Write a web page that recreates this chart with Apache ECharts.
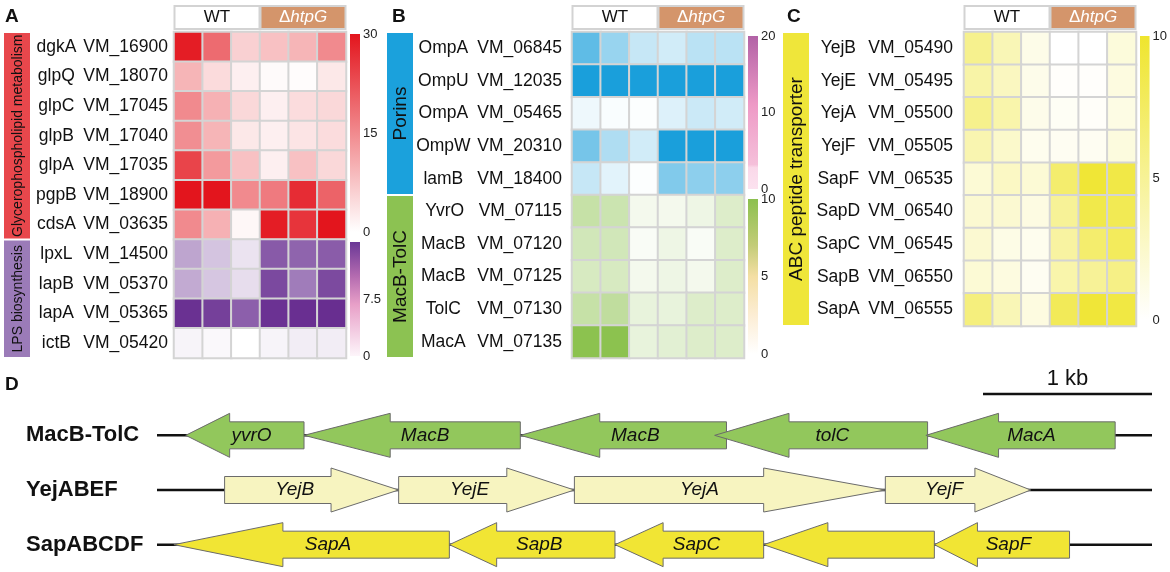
<!DOCTYPE html>
<html><head><meta charset="utf-8">
<script src="https://cdn.jsdelivr.net/npm/echarts@6/dist/echarts.min.js"></script>
<style>html,body{margin:0;padding:0;background:#fff}#c{width:1170px;height:572px}</style>
</head><body><div id="c"></div>
<script>
// ---------------- DATA ----------------
const samples = ['WT-1', 'WT-2', 'WT-3', 'htpG-1', 'htpG-2', 'htpG-3'];
const strains = ['WT', 'ΔhtpG'];

// Panel A
const genesA = ['dgkA', 'glpQ', 'glpC', 'glpB', 'glpA', 'pgpB', 'cdsA', 'lpxL', 'lapB', 'lapA', 'ictB'];
const idsA = ['VM_16900', 'VM_18070', 'VM_17045', 'VM_17040', 'VM_17035', 'VM_18900', 'VM_03635', 'VM_14500', 'VM_05370', 'VM_05365', 'VM_05420'];
const glyceroValues = [
  [29, 19, 6, 8, 9.5, 15],
  [9.5, 4.6, 2, 0.6, 0.4, 3],
  [15, 10, 5, 2, 4.5, 5],
  [14.5, 9.5, 3, 2, 3.5, 4.5],
  [24, 13, 8, 2, 8, 5],
  [30, 30, 15, 17, 27, 20],
  [15, 10, 1, 29, 26, 30]
];
const lpsValues = [
  [6.4, 4.2, 2, 11.7, 11, 11.5],
  [6, 4, 2.4, 12.9, 9.3, 12.8],
  [14.6, 13.5, 11.3, 14.5, 14.7, 14.8],
  [0.8, 0.5, 0, 0.8, 1.3, 1.3]
];
const groupsA = [
  { name: 'Glycerophospholipid metabolism', from: 0, to: 6 },
  { name: 'LPS biosynthesis', from: 7, to: 10 }
];

// Panel B
const genesB = ['OmpA', 'OmpU', 'OmpA', 'OmpW', 'lamB', 'YvrO', 'MacB', 'MacB', 'TolC', 'MacA'];
const idsB = ['VM_06845', 'VM_12035', 'VM_05465', 'VM_20310', 'VM_18400', 'VM_07115', 'VM_07120', 'VM_07125', 'VM_07130', 'VM_07135'];
const porinValues = [
  [14, 9, 5, 4, 6, 6],
  [20, 20, 20, 20, 20, 20],
  [1.5, 0.5, 0.3, 3, 4.5, 4],
  [12, 7, 4, 20, 20, 20],
  [5, 2.5, 0.3, 11, 10, 10]
];
const macValues = [
  [5, 4.5, 1, 1, 1.5, 3],
  [4, 4, 0.5, 1.5, 0.5, 3],
  [3.5, 3.5, 1, 1.5, 1, 3],
  [5, 5.5, 2, 2, 3, 3],
  [10, 10, 2, 2.5, 3, 3]
];
const groupsB = [
  { name: 'Porins', from: 0, to: 4 },
  { name: 'MacB-TolC', from: 5, to: 9 }
];

// Panel C
const genesC = ['YejB', 'YejE', 'YejA', 'YejF', 'SapF', 'SapD', 'SapC', 'SapB', 'SapA'];
const idsC = ['VM_05490', 'VM_05495', 'VM_05500', 'VM_05505', 'VM_06535', 'VM_06540', 'VM_06545', 'VM_06550', 'VM_06555'];
const abcValues = [
  [5.4, 3.5, 1.1, 0, 0, 1.7],
  [4.2, 3, 1, 0.2, 0.2, 1.5],
  [5.5, 4, 1, 0.5, 0.3, 1.3],
  [3.8, 2.5, 0.8, 0.6, 0.6, 1.6],
  [2, 2.8, 2, 7, 9.6, 8.8],
  [2.2, 2.2, 1.4, 5, 8.6, 8.2],
  [2.2, 1.2, 0.8, 4.5, 7, 7.8],
  [2, 1.5, 0.6, 4, 5, 5.8],
  [6.2, 3.5, 1.5, 8, 9.5, 9]
];
const groupsC = [{ name: 'ABC peptide transporter', from: 0, to: 8 }];

// Panel D (gene coordinates in bp; head = arrow-head length in bp)
const trackNames = ['MacB-TolC', 'YejABEF', 'SapABCDF'];
const trackLengthBp = 5888;
const trackStrand = [-1, 1, -1];
const macOperon = [
  { name: 'yvrO', start: 170, end: 870, head: 260 },
  { name: 'MacB', start: 870, end: 2150, head: 510 },
  { name: 'MacB', start: 2150, end: 3370, head: 470 },
  { name: 'tolC', start: 3300, end: 4560, head: 440 },
  { name: 'MacA', start: 4550, end: 5670, head: 430 }
];
const yejOperon = [
  { name: 'YejB', start: 400, end: 1430, head: 400 },
  { name: 'YejE', start: 1430, end: 2470, head: 400 },
  { name: 'YejA', start: 2470, end: 4310, head: 720 },
  { name: 'YejF', start: 4310, end: 5170, head: 330 }
];
const sapOperon = [
  { name: 'SapA', start: 100, end: 1730, head: 645 },
  { name: 'SapB', start: 1730, end: 2710, head: 280 },
  { name: 'SapC', start: 2710, end: 3590, head: 285 },
  { name: '', start: 3590, end: 4600, head: 380 },
  { name: 'SapF', start: 4600, end: 5400, head: 255 }
];
const scaleBarBp = 1000;
const scaleBarLabel = '1 kb';

// ---------------- CHART ----------------
const FONT = 'Liberation Sans, Arial, sans-serif';
const option = {
  animation: false, backgroundColor: '#ffffff',
  title: [], grid: [], xAxis: [], yAxis: [], series: [], visualMap: []
};
['A', 'B', 'C', 'D'].forEach((t, i) => {
  const pos = [[5, 7], [392, 7], [787, 7], [5, 375]][i];
  option.title.push({ text: t, left: pos[0], top: pos[1], padding: 0,
    textStyle: { fontSize: 19, fontWeight: 'bold', color: '#111', fontFamily: FONT } });
});

const strainItems = strains.map((s, i) => ({
  value: s,
  textStyle: { backgroundColor: i ? '#d4956b' : '#ffffff' }
}));

function addHeatPanel(p) {
  const gi = option.grid.length;
  option.grid.push({ left: p.left, top: p.top, width: 172, height: p.height });
  const xi = option.xAxis.length;
  option.xAxis.push({ gridIndex: gi, type: 'category', data: samples, show: false });
  option.xAxis.push({
    gridIndex: gi, type: 'category', position: 'top', data: strainItems,
    axisLine: { show: false }, axisTick: { show: false }, splitLine: { show: false },
    axisLabel: {
      interval: 0, margin: 4, width: 83, height: 21, lineHeight: 21, padding: 0,
      borderColor: '#d3d3d3', borderWidth: 2, align: 'center',
      formatter: v => v.startsWith('Δ') ? '{dn|Δ}{di|' + v.slice(1) + '}' : '{wn|' + v + '}',
      rich: {
        wn: { fontSize: 17, fontFamily: FONT, color: '#111', lineHeight: 21 },
        dn: { fontSize: 17, fontFamily: FONT, color: '#ffffff', lineHeight: 21 },
        di: { fontSize: 17, fontFamily: FONT, color: '#ffffff', fontStyle: 'italic', lineHeight: 21 }
      }
    }
  });
  const yi = option.yAxis.length;
  option.yAxis.push({
    gridIndex: gi, type: 'category', data: p.ids, inverse: true,
    axisLine: { show: false }, axisTick: { show: false }, splitLine: { show: false },
    axisLabel: {
      interval: 0, margin: p.margin,
      formatter: (v, i) => '{g|' + p.genes[i] + '}{v|' + v + '}',
      rich: {
        g: { width: p.geneW, align: 'center', fontSize: 17.5, fontFamily: FONT, color: '#111' },
        v: { fontSize: 17.5, fontFamily: FONT, color: '#111' }
      }
    }
  });
  p.blocks.forEach(b => {
    const si = option.series.length;
    const data = [];
    b.values.forEach((row, r) => row.forEach((val, c) => data.push([c, b.rowStart + r, val])));
    option.series.push({
      type: 'heatmap', xAxisIndex: xi, yAxisIndex: yi, data, silent: true,
      itemStyle: { borderColor: '#d4d4d4', borderWidth: 2 }, emphasis: { disabled: true }
    });
    option.visualMap.push({
      type: 'continuous', show: false, seriesIndex: si, dimension: 2,
      min: 0, max: b.max, inRange: { color: ['#ffffff', b.color] }
    });
  });
}

function addColorbar(c) {
  const gi = option.grid.length;
  option.grid.push({ left: c.left, top: c.top, width: 10, height: c.height });
  const xi = option.xAxis.length;
  option.xAxis.push({ gridIndex: gi, type: 'category', data: ['scale'], show: false });
  const yi = option.yAxis.length;
  option.yAxis.push({
    gridIndex: gi, type: 'value', min: 0, max: c.max, interval: c.interval, position: 'right',
    axisLine: { show: false }, axisTick: { show: false }, splitLine: { show: false },
    axisLabel: { margin: 3, fontSize: 13, color: '#222', fontFamily: FONT, showMaxLabel: c.showMax !== false }
  });
  option.series.push({
    type: 'bar', xAxisIndex: xi, yAxisIndex: yi, data: [c.max], barWidth: '100%', silent: true,
    itemStyle: { color: new echarts.graphic.LinearGradient(0, 0, 0, 1, c.stops) }
  });
}

function addGroupBar(g) {
  const gi = option.grid.length;
  option.grid.push({ left: g.left, top: g.top, width: g.width, height: g.height });
  const xi = option.xAxis.length;
  option.xAxis.push({ gridIndex: gi, type: 'value', min: 0, max: 20, show: false });
  const yi = option.yAxis.length;
  option.yAxis.push({ gridIndex: gi, type: 'category', data: g.ids, inverse: true, show: false });
  option.series.push({
    type: 'custom', xAxisIndex: xi, yAxisIndex: yi, silent: true,
    data: g.groups.map(x => [x.from, x.to]),
    renderItem: (params, api) => {
      const grp = g.groups[params.dataIndex];
      const band = api.size([0, 1])[1];
      const yA = api.coord([0, api.value(0)])[1] - band / 2;
      const yB = api.coord([0, api.value(1)])[1] + band / 2;
      const cs = params.coordSys;
      return {
        type: 'group', children: [
          { type: 'rect', shape: { x: cs.x, y: yA + 1, width: cs.width, height: yB - yA - 2 },
            style: { fill: g.colors[params.dataIndex] } },
          { type: 'text', x: cs.x + cs.width / 2 + 1, y: (yA + yB) / 2, rotation: Math.PI / 2,
            style: { text: grp.name, fill: '#111', fontSize: g.fontSize, fontFamily: FONT,
              align: 'center', verticalAlign: 'middle' } }
        ]
      };
    }
  });
}

// Panel A
addHeatPanel({ left: 174, top: 32, height: 326, genes: genesA, ids: idsA, margin: 6, geneW: 54,
  blocks: [
    { values: glyceroValues, rowStart: 0, max: 30, color: '#e3151d' },
    { values: lpsValues, rowStart: 7, max: 15, color: '#662b8f' }
  ] });
addGroupBar({ left: 4, width: 26, top: 32, height: 326, ids: idsA, groups: groupsA, fontSize: 14,
  colors: ['#e8474c', '#9b7bb8'] });
addColorbar({ left: 350, top: 34, height: 198, max: 30, interval: 15,
  stops: [{ offset: 0, color: '#e3151d' }, { offset: 1, color: '#ffffff' }] });
addColorbar({ left: 350, top: 242, height: 114, max: 15, interval: 7.5, showMax: false,
  stops: [{ offset: 0, color: '#6a3896' }, { offset: 0.3, color: '#b46bb0' }, { offset: 0.55, color: '#e8a0c8' }, { offset: 1, color: '#fdf5fa' }] });

// Panel B
addHeatPanel({ left: 572, top: 32, height: 326, genes: genesB, ids: idsB, margin: 10, geneW: 68,
  blocks: [
    { values: porinValues, rowStart: 0, max: 20, color: '#1a9fdb' },
    { values: macValues, rowStart: 5, max: 10, color: '#8cc24f' }
  ] });
addGroupBar({ left: 387, width: 26, top: 32, height: 326, ids: idsB, groups: groupsB, fontSize: 19,
  colors: ['#1ba1dc', '#8cc252'] });
addColorbar({ left: 748, top: 36, height: 153, max: 20, interval: 10,
  stops: [{ offset: 0, color: '#b262a6' }, { offset: 0.45, color: '#ee9ac6' }, { offset: 0.84, color: '#f5c0da' }, { offset: 0.86, color: '#fad8e9' }, { offset: 1, color: '#fce2ef' }] });
addColorbar({ left: 748, top: 199, height: 155, max: 10, interval: 5,
  stops: [{ offset: 0, color: '#8cc04f' }, { offset: 0.3, color: '#c3cc78' }, { offset: 0.5, color: '#f4dfa4' }, { offset: 0.75, color: '#fcedd4' }, { offset: 1, color: '#ffffff' }] });

// Panel C
addHeatPanel({ left: 964, top: 32, height: 294, genes: genesC, ids: idsC, margin: 11, geneW: 60,
  blocks: [{ values: abcValues, rowStart: 0, max: 10, color: '#efe52e' }] });
addGroupBar({ left: 783, width: 26, top: 32, height: 294, ids: idsC, groups: groupsC, fontSize: 19,
  colors: ['#efe63a'] });
addColorbar({ left: 1140, top: 36, height: 284, max: 10, interval: 5,
  stops: [{ offset: 0, color: '#efe52e' }, { offset: 1, color: '#ffffff' }] });

// Panel D
const trackColors = ['#92c75c', '#f7f4c0', '#f1e534'];
const geneList = [];
[macOperon, yejOperon, sapOperon].forEach((op, t) =>
  op.forEach(g => geneList.push(Object.assign({ track: t, strand: trackStrand[t] }, g))));
const dgi = option.grid.length;
option.grid.push({ left: 157, top: 408, width: 995, height: 164 });
const dxi = option.xAxis.length;
option.xAxis.push({ gridIndex: dgi, type: 'value', min: 0, max: trackLengthBp, show: false });
const dyi = option.yAxis.length;
option.yAxis.push({
  gridIndex: dgi, type: 'category', data: trackNames, inverse: true,
  axisLine: { show: false }, axisTick: { show: false }, splitLine: { show: false },
  axisLabel: { align: 'left', margin: 131, fontSize: 22, fontWeight: 'bold', color: '#111', fontFamily: FONT }
});
option.series.push({
  type: 'custom', xAxisIndex: dxi, yAxisIndex: dyi, silent: true,
  data: trackNames.map((n, i) => [0, i, trackLengthBp]),
  encode: { x: [0, 2], y: 1 },
  renderItem: (params, api) => {
    const a = api.coord([api.value(0), api.value(1)]);
    const b = api.coord([api.value(2), api.value(1)]);
    return { type: 'line', shape: { x1: a[0], y1: a[1], x2: b[0], y2: b[1] },
      style: { stroke: '#111', lineWidth: 2.5 } };
  }
});
option.series.push({
  type: 'custom', xAxisIndex: dxi, yAxisIndex: dyi, silent: true,
  data: geneList.map(g => [g.start, g.track, g.end, g.head]),
  encode: { x: [0, 2], y: 1 },
  renderItem: (params, api) => {
    const g = geneList[params.dataIndex];
    const a = api.coord([api.value(0), api.value(1)]);
    const b = api.coord([api.value(2), api.value(1)]);
    const h = api.size([api.value(3), 0])[0];
    const yc = a[1], x0 = a[0], x1 = b[0], HH = 22, BH = 13.5;
    let pts, lx;
    if (g.strand < 0) {
      pts = [[x0, yc], [x0 + h, yc - HH], [x0 + h, yc - BH], [x1, yc - BH], [x1, yc + BH], [x0 + h, yc + BH], [x0 + h, yc + HH]];
      lx = (x0 + 0.3 * h + x1) / 2;
    } else {
      pts = [[x1, yc], [x1 - h, yc + HH], [x1 - h, yc + BH], [x0, yc + BH], [x0, yc - BH], [x1 - h, yc - BH], [x1 - h, yc - HH]];
      lx = (x0 + x1 - 0.5 * h) / 2;
    }
    return { type: 'group', children: [
      { type: 'polygon', shape: { points: pts }, style: { fill: trackColors[g.track], stroke: '#6b6b6b', lineWidth: 1 } },
      { type: 'text', x: lx, y: yc, style: { text: g.name, fill: '#111', fontSize: 19, fontStyle: 'italic',
        fontFamily: FONT, align: 'center', verticalAlign: 'middle' } }
    ] };
  }
});
option.series.push({
  type: 'custom', xAxisIndex: dxi, yAxisIndex: dyi, silent: true,
  data: [[trackLengthBp - scaleBarBp, 0, trackLengthBp]],
  encode: { x: [0, 2], y: 1 },
  renderItem: (params, api) => {
    const a = api.coord([api.value(0), 0]);
    const b = api.coord([api.value(2), 0]);
    const y = params.coordSys.y - 14;
    return { type: 'group', children: [
      { type: 'line', shape: { x1: a[0], y1: y, x2: b[0], y2: y }, style: { stroke: '#111', lineWidth: 2.5 } },
      { type: 'text', x: (a[0] + b[0]) / 2, y: y - 4, style: { text: scaleBarLabel, fill: '#111', fontSize: 22,
        fontFamily: FONT, align: 'center', verticalAlign: 'bottom' } }
    ] };
  }
});

const chart = echarts.init(document.getElementById('c'), null, { renderer: 'canvas' });
chart.setOption(option);
</script>
</body></html>
